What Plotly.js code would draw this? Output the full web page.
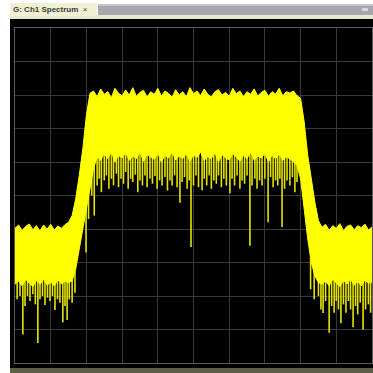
<!DOCTYPE html>
<html>
<head>
<meta charset="utf-8">
<script src="https://cdn.plot.ly/plotly-3.0.1.min.js"></script>
<style>html,body{margin:0;padding:0;background:#fff;}#chart{width:373px;height:373px;}</style>
</head>
<body>
<div id="chart"></div>
<script>
// Frequency axis in screen divisions (0..10)
const freqDiv = [0.0,0.1,0.2,0.3,0.4,0.5,0.6,0.7,0.8,0.9,1.0,1.1,1.2,1.3,1.4,1.5,1.6,1.7,1.8,1.9,
  2.0,2.1,2.2,2.3,2.4,2.5,2.6,2.7,2.8,2.9,3.0,3.1,3.2,3.3,3.4,3.5,3.6,3.7,3.8,3.9,
  4.0,4.1,4.2,4.3,4.4,4.5,4.6,4.7,4.8,4.9,5.0,5.1,5.2,5.3,5.4,5.5,5.6,5.7,5.8,5.9,
  6.0,6.1,6.2,6.3,6.4,6.5,6.6,6.7,6.8,6.9,7.0,7.1,7.2,7.3,7.4,7.5,7.6,7.7,7.8,7.9,
  8.0,8.1,8.2,8.3,8.4,8.5,8.6,8.7,8.8,8.9,9.0,9.1,9.2,9.3,9.4,9.5,9.6,9.7,9.8,9.9,10.0];

// Upper envelope of the noisy trace (level in divisions)
const traceTop = [4.02,4.12,3.96,4.08,4.15,3.98,4.1,3.94,4.12,4.0,4.14,3.97,4.09,4.02,4.13,4.2,
  4.4,4.9,5.6,6.4,7.4,8.05,
  8.12,7.95,8.18,8.02,8.1,7.92,8.2,8.05,7.98,8.15,8.0,8.22,7.96,8.08,8.14,7.94,8.1,8.02,8.2,7.97,
  8.12,8.05,7.93,8.16,8.0,8.1,7.95,8.22,8.04,8.12,7.98,8.18,8.02,7.94,8.1,8.16,8.0,8.08,7.96,8.2,
  8.04,8.12,7.95,8.1,8.02,8.18,7.97,8.08,8.14,7.96,8.1,8.03,8.2,7.98,8.1,8.06,8.12,7.98,
  7.9,7.2,6.2,5.5,4.8,4.25,
  4.05,4.14,3.96,4.1,4.02,4.16,3.95,4.08,4.12,3.98,4.1,4.04,4.15,3.97,4.06];

// Lower edge of the solid (dense) part of the trace
const traceSolidLow = [2.35,2.45,2.3,2.5,2.38,2.28,2.46,2.35,2.5,2.32,2.42,2.3,2.48,2.36,2.44,2.4,
  2.45,2.8,3.4,4.0,4.6,5.2,5.8,
  6.15,6.05,6.25,6.1,6.3,6.0,6.2,6.12,6.28,6.05,6.18,6.1,6.3,6.02,6.22,6.15,6.08,6.26,6.0,6.2,
  6.12,6.3,6.06,6.18,6.1,6.25,6.02,6.2,6.14,6.3,6.05,6.16,6.1,6.28,6.0,6.22,6.12,6.06,6.25,6.15,
  6.02,6.2,6.1,6.3,6.05,6.18,6.12,6.26,6.0,6.2,6.1,6.24,6.05,6.15,6.1,6.0,5.9,
  5.5,4.6,3.7,3.0,2.6,2.4,
  2.35,2.45,2.3,2.5,2.4,2.28,2.46,2.36,2.5,2.32,2.44,2.3,2.48,2.38,2.42];

// Downward noise spikes: position and lowest level
const spikeX = [0.06,0.14,0.22,0.28,0.35,0.42,0.5,0.57,0.64,0.7,0.77,0.84,0.91,0.98,1.05,1.12,1.19,1.26,1.34,1.4,1.46,1.52,1.6,1.68,
  1.99,2.06,2.15,2.22,2.3,2.36,2.42,2.5,2.56,2.63,2.7,2.76,2.84,2.9,2.97,3.04,3.1,3.17,3.24,3.3,3.37,3.44,3.5,3.57,3.64,3.7,3.78,3.85,3.92,3.98,
  4.05,4.12,4.2,4.27,4.34,4.4,4.47,4.54,4.62,4.68,4.75,4.82,4.88,4.93,5.0,5.07,5.14,5.24,5.3,5.37,5.44,5.5,5.57,5.64,5.7,5.78,5.85,5.92,
  6.02,6.08,6.15,6.22,6.3,6.36,6.43,6.5,6.58,6.64,6.72,6.78,6.85,6.92,7.0,7.09,7.16,7.23,7.3,7.36,7.42,7.48,7.55,7.62,7.7,7.77,7.84,7.9,
  8.28,8.38,8.5,8.57,8.63,8.7,8.8,8.87,8.94,9.0,9.06,9.13,9.2,9.27,9.34,9.4,9.47,9.54,9.6,9.67,9.75,9.82,9.9,9.96];
const spikeLow = [1.9,2.0,0.85,1.7,2.0,1.85,2.05,1.75,0.6,1.9,2.0,1.73,1.95,1.85,2.0,1.58,1.9,1.8,1.22,1.7,1.28,1.9,1.8,2.1,
  3.3,4.3,5.0,4.4,5.3,5.5,5.1,5.45,5.6,5.2,5.5,5.3,5.65,5.25,5.5,5.35,5.7,5.2,5.5,5.4,5.62,5.1,5.45,5.3,5.6,5.25,5.5,5.35,5.58,5.2,
  5.45,5.3,5.55,5.15,5.45,5.3,5.6,5.25,4.78,5.4,5.55,5.2,5.45,3.46,5.3,5.6,5.25,5.16,5.5,5.3,5.6,5.2,5.45,5.35,5.6,5.25,5.5,5.3,
  5.07,5.5,5.3,5.6,5.2,5.45,5.35,5.6,3.5,5.3,5.5,5.2,5.45,5.3,5.5,4.2,5.55,5.25,5.45,5.3,5.5,4.06,5.2,5.45,5.3,5.55,5.1,5.4,
  2.2,1.9,2.0,1.6,1.49,1.85,0.9,1.7,1.5,1.85,1.6,1.19,1.75,1.5,1.85,1.6,1.07,1.7,1.45,1.8,0.99,1.6,1.75,1.5];

const YEL = '#ffff00';

// Build spike segments (each starts inside the solid band)
const sx = [], sy = [];
spikeX.forEach((x, i) => {
  const k = Math.round(x * 10);
  sx.push(x, x, null);
  sy.push(traceSolidLow[k] + 0.15, spikeLow[i], null);
});

const traces = [
  {x: sx, y: sy, type: 'scatter', mode: 'lines', line: {color: '#e4e400', width: 1.6}, hoverinfo: 'skip'},
  {x: freqDiv, y: traceTop, type: 'scatter', mode: 'lines', line: {color: YEL, width: 1}, hoverinfo: 'skip'},
  {x: freqDiv, y: traceSolidLow, type: 'scatter', mode: 'lines', fill: 'tonexty', fillcolor: YEL,
   line: {color: YEL, width: 1}, hoverinfo: 'skip'}
];

// helpers for paper coords from pixel positions
const L = 15, T = 28, W = 357, H = 335;
const px = p => (p - L) / W;
const py = p => (T + H - p) / H;

const layout = {
  width: 373, height: 373,
  margin: {l: L, r: 373 - L - W, t: T, b: 373 - T - H, pad: 0},
  paper_bgcolor: '#ffffff',
  plot_bgcolor: '#000000',
  showlegend: false,
  xaxis: {range: [0, 10], dtick: 1, tick0: 0, showgrid: true, gridcolor: '#3a3a3a', gridwidth: 1,
          zeroline: false, showticklabels: false, ticks: '', showline: true, mirror: true,
          linecolor: '#5a5a5a', linewidth: 1, fixedrange: true},
  yaxis: {range: [0, 10], dtick: 1, tick0: 0, showgrid: true, gridcolor: '#3a3a3a', gridwidth: 1,
          zeroline: false, showticklabels: false, ticks: '', showline: true, mirror: true,
          linecolor: '#5a5a5a', linewidth: 1, fixedrange: true},
  shapes: [
    {type: 'rect', xref: 'paper', yref: 'paper', x0: px(10), x1: px(374), y0: py(368), y1: py(19),
     fillcolor: '#000000', line: {width: 0}, layer: 'below'},
    {type: 'rect', xref: 'paper', yref: 'paper', x0: px(10), x1: px(374), y0: py(373), y1: py(368),
     fillcolor: '#5f5f45', line: {width: 0}, layer: 'below'},
    {type: 'rect', xref: 'paper', yref: 'paper', x0: px(10), x1: px(374), y0: py(19), y1: py(15),
     fillcolor: '#e9e7cc', line: {width: 0}, layer: 'below'},
    {type: 'rect', xref: 'paper', yref: 'paper', x0: px(10), x1: px(97), y0: py(16), y1: py(3),
     fillcolor: '#f1efd4', line: {width: 0}, layer: 'below'},
    {type: 'rect', xref: 'paper', yref: 'paper', x0: px(98), x1: px(374), y0: py(15), y1: py(4),
     fillcolor: '#a7a8ad', line: {width: 0}, layer: 'below'},
    {type: 'rect', xref: 'paper', yref: 'paper', x0: px(98), x1: px(374), y0: py(6), y1: py(4),
     fillcolor: '#c4c5c9', line: {width: 0}, layer: 'below'},
    {type: 'rect', xref: 'paper', yref: 'paper', x0: px(362), x1: px(368), y0: py(11), y1: py(8),
     fillcolor: '#d8d8dc', line: {width: 0}, layer: 'below'}
  ],
  annotations: [
    {xref: 'paper', yref: 'paper', x: px(11), y: py(10), xanchor: 'left', yanchor: 'middle',
     text: '<b>G: Ch1 Spectrum</b>  ×', showarrow: false,
     font: {family: 'Liberation Sans, Arial, sans-serif', size: 8, color: '#3a3a30'}}
  ]
};

Plotly.newPlot('chart', traces, layout, {displayModeBar: false, staticPlot: true});
</script>
</body>
</html>
